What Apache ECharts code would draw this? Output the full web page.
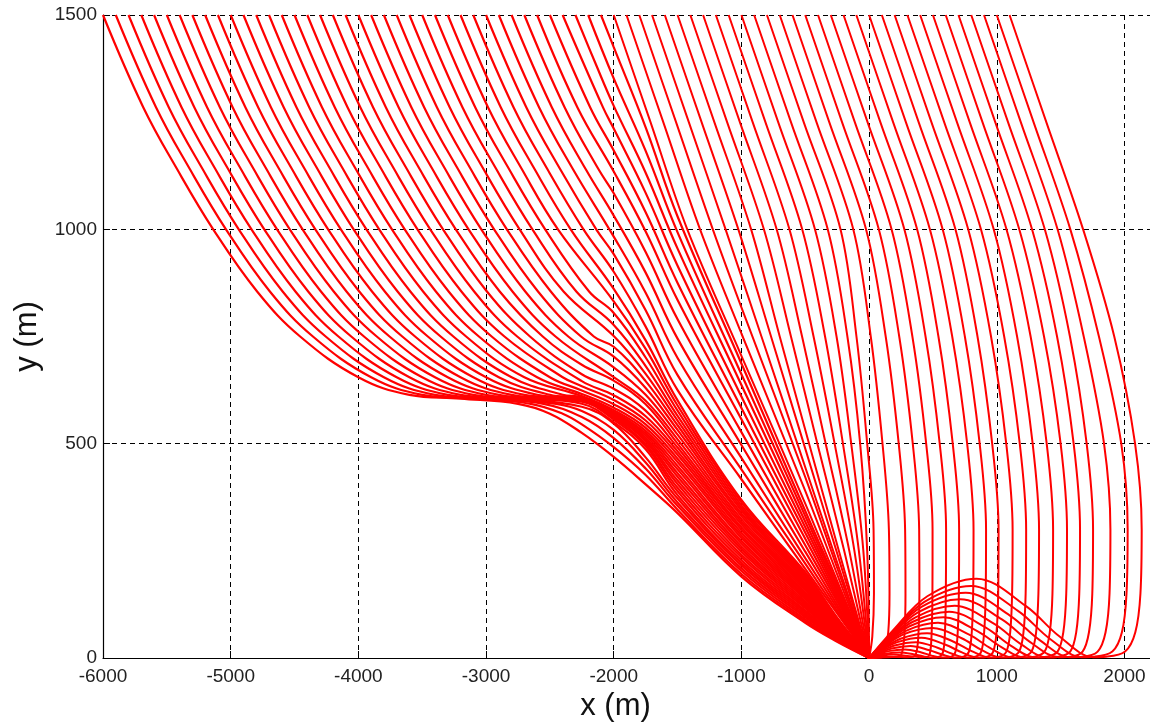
<!DOCTYPE html>
<html>
<head>
<meta charset="utf-8">
<script src="https://cdn.jsdelivr.net/npm/echarts@6/dist/echarts.min.js"></script>
<style>
  html, body { margin: 0; padding: 0; background: #fff; }
  #chart { width: 1150px; height: 727px; }
</style>
</head>
<body>
<div id="chart"></div>
<script>
// Trajectory family, each path as a flat list: x0, y0, x1, y1, ... (metres)

// Paths starting far left: descend, level off near 600 m and follow the common band to the origin
const leftPaths = [
  [-6000,1500,-5685,1285,-5419,1140,-5137,1000,-4793,855,-4456,750,-4000,655,-3600,614,-3200,605,-2750,593,-2500,570,-2250,525,-2000,469,-1750,405,-1500,338,-1000,190,-500,82,-250,38,0,0],
  [-5900,1500,-5585,1285,-5319,1140,-5037,1000,-4693,855,-4356,750,-3900,655,-3500,614,-3100,605,-2650,593,-2400,570,-2250,545,-2000,492,-1750,427,-1500,346,-1000,196,-500,86,-250,40,0,0],
  [-5800,1500,-5485,1285,-5219,1140,-4937,1000,-4593,855,-4256,750,-3800,655,-3400,614,-3000,605,-2550,593,-2250,562,-2000,513,-1750,442,-1500,355,-1000,203,-500,90,-250,42,0,0],
  [-5700,1500,-5385,1285,-5119,1140,-4837,1000,-4493,855,-4156,750,-3700,655,-3300,614,-2900,605,-2450,593,-2250,576,-2000,532,-1750,456,-1500,363,-1000,209,-500,95,-250,45,0,0],
  [-5600,1500,-5285,1285,-5019,1140,-4737,1000,-4393,855,-4056,750,-3600,655,-3200,614,-2800,605,-2250,586,-2000,547,-1750,468,-1500,372,-1000,216,-500,99,-250,47,0,0],
  [-5500,1500,-5185,1285,-4919,1140,-4637,1000,-4293,855,-3956,750,-3500,655,-3100,614,-2700,605,-2250,593,-2000,550,-1750,487,-1500,380,-1000,222,-500,103,-250,48,0,0],
  [-5400,1500,-5085,1285,-4819,1140,-4537,1000,-4193,855,-3856,750,-3400,655,-3000,614,-2600,605,-2250,598,-2000,556,-1750,494,-1500,389,-1000,228,-500,107,-250,50,0,0],
  [-5300,1500,-4985,1285,-4719,1140,-4437,1000,-4093,855,-3756,750,-3300,655,-2900,614,-2500,605,-2250,601,-2000,560,-1750,499,-1500,397,-1000,235,-500,111,-250,52,0,0],
  [-5200,1500,-4885,1285,-4619,1140,-4337,1000,-3993,855,-3656,750,-3200,655,-2800,614,-2400,605,-2250,603,-2000,564,-1750,505,-1500,406,-1000,241,-500,116,-250,55,0,0],
  [-5100,1500,-4785,1285,-4519,1140,-4237,1000,-3893,855,-3556,750,-3100,655,-2700,614,-2250,604,-2000,566,-1750,509,-1500,414,-1000,248,-500,120,-250,56,0,0],
  [-5000,1500,-4685,1285,-4419,1140,-4137,1000,-3793,855,-3456,750,-3000,655,-2600,614,-2250,605,-2000,569,-1750,514,-1500,423,-1000,254,-500,124,-250,58,0,0],
  [-4900,1500,-4585,1285,-4319,1140,-4037,1000,-3693,855,-3356,750,-2900,655,-2500,614,-2250,606,-2000,571,-1750,519,-1500,431,-1000,260,-500,128,-250,60,0,0],
  [-4800,1500,-4485,1285,-4219,1140,-3937,1000,-3593,855,-3256,750,-2800,655,-2400,614,-2250,608,-2000,574,-1750,524,-1500,440,-1000,267,-500,132,-250,62,0,0],
  [-4700,1500,-4385,1285,-4119,1140,-3837,1000,-3493,855,-3156,750,-2700,655,-2250,611,-2000,578,-1750,530,-1500,448,-1000,273,-500,137,-250,64,0,0],
  [-4600,1500,-4285,1285,-4019,1140,-3737,1000,-3393,855,-3056,750,-2600,655,-2250,616,-2000,584,-1750,537,-1500,457,-1000,280,-500,141,-250,66,0,0],
  [-4500,1500,-4185,1285,-3919,1140,-3637,1000,-3293,855,-2956,750,-2500,655,-2250,624,-2000,592,-1750,545,-1500,465,-1000,286,-500,145,-250,68,0,0],
  [-4400,1500,-4085,1285,-3819,1140,-3537,1000,-3193,855,-2856,750,-2400,655,-2250,634,-2000,602,-1750,554,-1500,474,-1000,292,-500,149,-250,70,0,0],
  [-4300,1500,-3985,1285,-3719,1140,-3437,1000,-3093,855,-2756,750,-2250,646,-2000,613,-1750,564,-1500,482,-1000,299,-500,153,-250,72,0,0],
  [-4200,1500,-3885,1285,-3619,1140,-3337,1000,-2993,855,-2656,750,-2250,662,-2000,628,-1750,577,-1500,491,-1000,305,-500,158,-250,74,0,0],
  [-4100,1500,-3785,1285,-3519,1140,-3237,1000,-2893,855,-2556,750,-2250,684,-2000,647,-1750,592,-1500,500,-1000,312,-500,162,-250,76,0,0]
];

// Paths that turn towards the origin around x = -2000 and fan in above the band
const fanPaths = [
  [-4000,1500,-3685,1285,-3419,1140,-3137,1000,-2793,855,-2456,750,-2000,655,-1750,600,-1500,510,-1000,318,-500,166,-250,78,0,0],
  [-3900,1500,-3585,1285,-3319,1140,-3037,1000,-2693,855,-2356,750,-2000,678,-1750,614,-1500,521,-1000,324,-500,170,-250,80,0,0],
  [-3800,1500,-3485,1285,-3219,1140,-2937,1000,-2593,855,-2256,750,-2000,703,-1750,630,-1500,532,-1000,331,-500,174,-250,82,0,0],
  [-3700,1500,-3385,1285,-3119,1140,-2837,1000,-2493,855,-2156,750,-2000,726,-1750,646,-1500,543,-1000,337,-500,179,-250,84,0,0],
  [-3600,1500,-3285,1285,-3019,1140,-2737,1000,-2393,855,-2000,751,-1750,663,-1500,554,-1000,344,-500,183,-250,86,0,0],
  [-3500,1500,-3185,1285,-2919,1140,-2637,1000,-2293,855,-2000,777,-1750,681,-1500,565,-1000,350,-500,187,-250,88,0,0],
  [-3400,1500,-3085,1285,-2819,1140,-2537,1000,-2193,855,-2000,805,-1750,701,-1500,577,-1000,356,-500,191,-250,90,0,0],
  [-3300,1500,-2985,1285,-2719,1140,-2437,1000,-2000,832,-1750,721,-1500,589,-1000,363,-500,195,-250,92,0,0],
  [-3200,1500,-2885,1285,-2619,1140,-2337,1000,-2000,861,-1750,741,-1500,601,-1000,369,-500,200,-250,94,0,0],
  [-3100,1500,-2785,1285,-2519,1140,-2237,1000,-2000,901,-1750,773,-1500,625,-1000,417,-500,208,-250,104,0,0],
  [-3000,1500,-2685,1285,-2419,1140,-2137,1000,-2000,942,-1750,811,-1500,660,-1000,440,-500,220,-250,110,0,0],
  [-2900,1500,-2585,1285,-2319,1140,-2000,983,-1750,852,-1500,700,-1000,467,-500,233,-250,117,0,0],
  [-2800,1500,-2485,1285,-2219,1140,-2000,1032,-1750,899,-1500,745,-1000,497,-500,248,-250,124,0,0],
  [-2700,1500,-2385,1285,-2119,1140,-2000,1084,-1750,947,-1500,790,-1000,527,-500,263,-250,132,0,0],
  [-2600,1500,-2285,1285,-2000,1135,-1750,995,-1500,835,-1000,557,-500,278,-250,139,0,0],
  [-2500,1500,-2185,1285,-2000,1184,-1750,1040,-1500,875,-1000,583,-500,292,-250,146,0,0],
  [-2400,1500,-2085,1285,-2000,1235,-1750,1085,-1500,915,-1000,610,-500,305,-250,153,0,0],
  [-2300,1500,-2140,1385,-2000,1288,-1750,1132,-1500,955,-1000,637,-500,318,-250,159,0,0],
  [-2200,1500,-2000,1352,-1750,1183,-1500,993,-1000,662,-500,331,-250,166,0,0],
  [-2100,1500,-2000,1425,-1750,1238,-1500,1030,-1000,687,-500,343,-250,172,0,0]
];

// Paths starting between -2000 and -900 that run almost straight into the origin
const steerPaths = [
  [-2000,1500,-1712,1250,-1424,1000,-1000,705,-500,360,-250,180,0,0],
  [-1900,1500,-1612,1250,-1324,1000,-1000,757,-500,390,-250,195,0,0],
  [-1800,1500,-1512,1250,-1224,1000,-1000,818,-500,422,-250,210,0,0],
  [-1700,1500,-1412,1250,-1124,1000,-843,750,-562,500,-281,250,0,0],
  [-1600,1500,-1312,1250,-1024,1000,-768,750,-512,500,-256,250,0,0],
  [-1500,1500,-1212,1250,-924,1000,-700,750,-470,500,-237,250,0,0],
  [-1400,1500,-1112,1250,-824,1000,-612,750,-405,500,-195,250,0,0],
  [-1300,1500,-1012,1250,-724,1000,-525,750,-340,500,-155,250,0,0],
  [-1200,1500,-912,1250,-624,1000,-435,750,-270,500,-115,250,0,0],
  [-1100,1500,-812,1250,-524,1000,-345,750,-205,500,-80,250,0,0],
  [-1000,1500,-712,1250,-424,1000,-255,750,-140,500,-45,250,0,0],
  [-900,1500,-612,1250,-324,1000,-170,750,-70,500,-15,250,0,0]
];

// Paths that overshoot to the right, drop to the ground and loop back over a hump
const rightPaths = [
  [-800,1500,-512,1250,-224,1000,-99,750,-15,500,35,300,38,150,25,50,0,0],
  [-700,1500,-412,1250,-124,1000,13,750,105,500,155,300,160,150,150,60,125,20,95,5,50,2,0,0],
  [-600,1500,-312,1250,-24,1000,130,750,232,500,282,300,285,150,278,60,260,15,235,3,150,2,0,0],
  [-500,1500,-212,1250,76,1000,236,750,342,500,392,300,394,150,387,60,372,15,345,3,300,2,200,3,100,2,0,0],
  [-400,1500,-112,1250,176,1000,339,750,447,500,497,300,496,150,490,60,479,15,459,3,405,2,284,5,194,8,105,6,0,0],
  [-300,1500,-12,1250,276,1000,442,750,553,500,603,300,601,150,594,60,580,15,552,3,495,1,421,4,347,9,238,13,129,10,50,4,0,0],
  [-200,1500,88,1250,376,1000,543,750,655,500,705,300,703,150,694,60,677,15,645,3,585,1,497,5,410,13,281,20,152,16,59,7,0,0],
  [-100,1500,188,1250,476,1000,651,750,768,500,818,300,815,150,804,60,782,15,739,3,675,1,574,8,473,18,324,28,176,22,68,9,0,0],
  [0,1500,288,1250,576,1000,750,750,866,500,916,300,913,150,901,60,878,15,832,3,765,1,650,10,536,24,367,37,199,29,77,12,0,0],
  [100,1500,388,1250,676,1000,849,750,964,500,1014,300,1011,150,998,60,972,15,925,3,855,1,727,13,599,31,410,47,222,37,86,16,0,0],
  [200,1500,488,1250,776,1000,955,750,1074,500,1124,300,1120,150,1105,60,1075,15,1018,3,945,1,803,16,662,38,454,58,246,45,95,19,0,0],
  [300,1500,588,1250,876,1000,1058,750,1180,500,1230,300,1226,150,1209,60,1175,15,1111,3,1035,1,880,19,725,46,497,70,269,55,104,23,0,0],
  [400,1500,688,1250,976,1000,1159,750,1281,500,1331,300,1326,150,1308,60,1272,15,1204,3,1125,1,956,22,788,54,540,82,293,64,113,27,0,0],
  [500,1500,788,1250,1076,1000,1265,750,1391,500,1441,300,1436,150,1415,60,1375,15,1298,3,1215,1,1033,26,851,62,583,95,316,74,122,31,0,0],
  [600,1500,888,1250,1176,1000,1370,750,1500,500,1550,300,1544,150,1521,60,1476,15,1391,3,1305,1,1109,29,914,71,626,108,339,84,131,36,0,0],
  [700,1500,988,1250,1276,1000,1472,750,1602,500,1652,300,1646,150,1622,60,1575,15,1484,3,1395,1,1186,33,977,80,670,122,363,95,140,40,0,0],
  [800,1500,1088,1250,1376,1000,1573,750,1704,500,1754,300,1748,150,1722,60,1672,15,1577,3,1485,2,1262,37,1040,90,713,137,386,107,149,45,0,0],
  [900,1500,1188,1250,1476,1000,1681,750,1840,500,1890,300,1883,150,1852,60,1790,15,1670,3,1575,2,1339,41,1103,99,756,152,410,119,158,50,0,0],
  [1000,1500,1288,1250,1576,1000,1800,750,1975,500,2025,300,2016,150,1980,60,1905,15,1763,3,1665,2,1415,45,1166,110,799,168,433,131,167,55,0,0],
  [1100,1500,1388,1250,1676,1000,1920,750,2083,500,2135,300,2125,150,2085,60,2005,15,1856,3,1755,2,1492,50,1229,121,842,185,456,144,176,61,0,0]
];

const xName = 'x (m)';
const yName = 'y (m)';

function pairs(flat) {
  const out = [];
  for (let i = 0; i < flat.length; i += 2) out.push([flat[i], flat[i + 1]]);
  return out;
}

function makeSeries(group, width, smooth) {
  return group.map(function (flat) {
    return {
      type: 'line',
      data: pairs(flat),
      showSymbol: false,
      smooth: smooth,
      silent: true,
      lineStyle: { color: '#ff0000', width: width },
      z: 3
    };
  });
}

const series = []
  .concat(makeSeries(leftPaths, 2.2, 0.4))
  .concat(makeSeries(fanPaths, 2.2, 0.4))
  .concat(makeSeries(steerPaths, 2, 0.35))
  .concat(makeSeries(rightPaths, 2, 0.35));

const font = "'Liberation Sans', Arial, sans-serif";
const gridLine = { show: true, lineStyle: { color: '#000', type: [5, 4], width: 1 } };
const plainNumber = function (v) { return String(v); };

const chart = echarts.init(document.getElementById('chart'), null, { renderer: 'canvas' });
chart.setOption({
  animation: false,
  backgroundColor: '#ffffff',
  grid: { left: 103, right: 0, top: 15, bottom: 69, containLabel: false },
  xAxis: {
    type: 'value',
    min: -6000, max: 2200, interval: 1000,
    name: xName, nameLocation: 'middle', nameGap: 32,
    nameTextStyle: { fontFamily: font, fontSize: 31, color: '#111', padding: [0, 22, 0, 0] },
    axisLine: { show: true, onZero: false, lineStyle: { color: '#000', width: 1.2 } },
    axisTick: { show: true, inside: true, length: 7, lineStyle: { color: '#000' } },
    axisLabel: { fontFamily: font, fontSize: 19, color: '#222', margin: 9, showMaxLabel: false, formatter: plainNumber },
    splitLine: gridLine
  },
  yAxis: {
    type: 'value',
    min: 0, max: 1500, interval: 500,
    name: yName, nameLocation: 'middle', nameGap: 60,
    nameTextStyle: { fontFamily: font, fontSize: 31, color: '#111' },
    axisLine: { show: true, onZero: false, lineStyle: { color: '#000', width: 1.2 } },
    axisTick: { show: true, inside: true, length: 7, lineStyle: { color: '#000' } },
    axisLabel: { fontFamily: font, fontSize: 19, color: '#222', margin: 6, formatter: plainNumber },
    splitLine: gridLine
  },
  series: series
});
</script>
</body>
</html>
